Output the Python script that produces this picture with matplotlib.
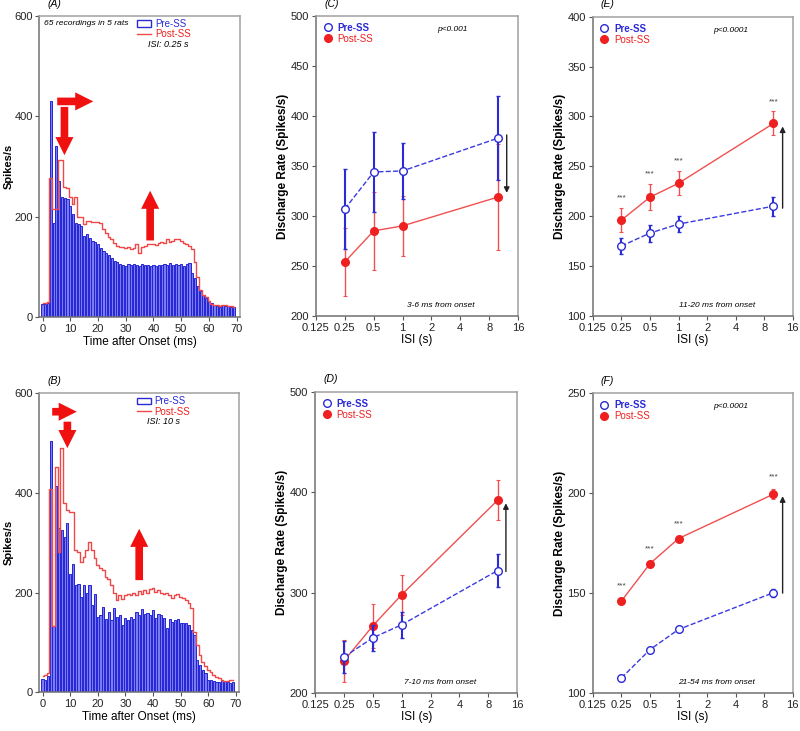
import numpy as np
import matplotlib.pyplot as plt
from matplotlib.patches import Patch
from matplotlib.lines import Line2D

plt.rcParams['font.family'] = ['Liberation Sans', 'DejaVu Sans']

BLUE = '#2b2bd6'
RED = '#ee2020'

# ---- PSTH data, 1 ms bins, 0-70 ms ----
bins_ms = np.arange(70)

pre_a = [27, 27, 28, 430, 187, 342, 272, 240, 238, 235,
         222, 205, 188, 186, 182, 162, 165, 158, 152, 149,
         145, 138, 132, 128, 124, 118, 112, 110, 106, 104,
         103, 106, 104, 107, 105, 103, 106, 104, 105, 103,
         104, 102, 105, 104, 106, 105, 108, 105, 107, 104,
         106, 103, 106, 108, 88, 78, 63, 53, 45, 38,
         33, 28, 25, 22, 20, 24, 22, 22, 20, 20]
post_a = [28, 28, 30, 278, 215, 215, 313, 313, 260, 258,
          240, 225, 240, 200, 200, 185, 192, 192, 190, 190,
          190, 188, 175, 168, 160, 155, 148, 142, 140, 140,
          137, 140, 135, 137, 145, 128, 140, 142, 145, 146,
          145, 143, 148, 150, 148, 155, 150, 152, 155, 155,
          152, 148, 145, 142, 135, 110, 80, 55, 45, 40,
          33, 27, 25, 25, 22, 25, 25, 23, 22, 20]

pre_b = [27, 25, 33, 505, 132, 413, 330, 326, 312, 340,
         238, 258, 215, 218, 192, 215, 200, 215, 175, 198,
         152, 155, 172, 148, 162, 145, 170, 152, 155, 135,
         150, 145, 152, 148, 162, 155, 168, 158, 160, 155,
         166, 150, 158, 155, 150, 128, 148, 140, 145, 148,
         138, 138, 138, 135, 125, 115, 65, 55, 45, 38,
         25, 25, 22, 20, 20, 25, 22, 20, 18, 20]
post_b = [33, 35, 38, 408, 133, 453, 282, 490, 380, 366,
          362, 362, 285, 282, 262, 272, 285, 302, 285, 270,
          255, 250, 245, 232, 228, 215, 200, 185, 195, 188,
          195, 198, 196, 200, 195, 203, 198, 205, 200, 208,
          210, 202, 205, 200, 198, 200, 195, 190, 195, 198,
          192, 190, 186, 180, 170, 120, 95, 75, 60, 52,
          45, 40, 35, 30, 28, 25, 23, 22, 25, 25]

# ---- discharge rate vs ISI ----
isi = [0.25, 0.5, 1, 10]
isi_ticks = [0.125, 0.25, 0.5, 1, 2, 4, 8, 16]
isi_labels = ['0.125', '0.25', '0.5', '1', '2', '4', '8', '16']

pre_c = [307, 344, 345, 378]
pre_c_err = [40, 40, 28, 42]
post_c = [254, 285, 290, 319]
post_c_err = [34, 39, 30, 53]

pre_d = [236, 255, 268, 322]
pre_d_err = [16, 13, 13, 16]
post_d = [232, 267, 298, 392]
post_d_err = [21, 22, 20, 20]

pre_e = [170, 183, 192, 210]
pre_e_err = [8, 8.5, 8, 9.5]
post_e = [196, 219, 233, 293]
post_e_err = [12, 13, 12, 12]

pre_f = [107.5, 121.7, 131.8, 150.2]
pre_f_err = [1.5, 1.5, 1.5, 2]
post_f = [146, 164.7, 177.3, 199.5]
post_f_err = [1.5, 1.5, 1.5, 2.5]


def frame(ax):
    for side in ['top', 'right']:
        ax.spines[side].set_color('#a0a0a0')
    for side in ['left', 'bottom']:
        ax.spines[side].set_color('#707070')
    for s in ax.spines.values():
        s.set_linewidth(1.1)
    ax.tick_params(direction='out', length=3, width=0.8, color='#555555',
                   labelsize=8, labelcolor='#222222', pad=2)


def big_arrow(ax, start, end):
    ax.annotate('', xy=end, xytext=start,
                arrowprops=dict(arrowstyle='simple,head_length=1.3,head_width=1.3,tail_width=0.55',
                                mutation_scale=10, color='#f01010', lw=0,
                                shrinkA=0, shrinkB=0))


def psth_panel(ax, pre, post, tag, isi_note, arrows, show_count):
    ax.bar(bins_ms, pre, width=0.78, color='#7c7cf2', edgecolor='#2424d4',
           linewidth=0.7, zorder=2)
    ax.step(bins_ms, post, where='mid', color='#f04848', lw=1.0, zorder=3)
    ax.set_xlim(-1.2, 71.2)
    ax.set_ylim(0, 600)
    ax.set_xticks(range(0, 71, 10))
    ax.set_yticks([0, 200, 400, 600])
    frame(ax)
    ax.tick_params(axis='y', pad=1.5)
    ax.set_ylabel('Spikes/s', fontsize=8, fontweight='bold')
    ax.yaxis.set_label_coords(-0.125, 0.5)
    ax.set_xlabel('Time after Onset (ms)', fontsize=8.5, labelpad=1)
    ax.text(0.04, 1.025, tag, transform=ax.transAxes, fontsize=7.5,
            style='italic', ha='left', va='bottom')
    if show_count:
        ax.text(0.025, 0.975, '65 recordings in 5 rats', transform=ax.transAxes,
                fontsize=6.1, style='italic', ha='left', va='center')
    handles = [Patch(facecolor='white', edgecolor=BLUE, linewidth=1.0),
               Line2D([], [], color='#f04848', lw=1.0)]
    ax.legend(handles, ['Pre-SS', 'Post-SS'], loc='upper left',
              bbox_to_anchor=(0.46, 1.01), frameon=False, fontsize=7,
              handlelength=1.4, handleheight=0.6, handletextpad=0.4,
              labelspacing=0.05, labelcolor=[BLUE, RED], borderaxespad=0.2)
    ax.text(0.54, 0.905, isi_note, transform=ax.transAxes, fontsize=6.5,
            style='italic', ha='left', va='center')
    for start, end in arrows:
        big_arrow(ax, start, end)


def rate_panel(ax, pre, pre_err, post, post_err, ylim, yticks, tag,
               window, pval, stars, star_off, arrow, show_xlabel=True):
    ax.errorbar(isi, post, yerr=post_err, fmt='-o', color='#f05050', lw=1.0,
                ecolor='#f05050', elinewidth=1.0, capsize=1.5, capthick=0.8,
                markersize=5.5, markerfacecolor=RED, markeredgecolor=RED,
                zorder=3)
    ax.errorbar(isi, pre, yerr=pre_err, fmt='--o', color='#3a3ae0', lw=1.0,
                ecolor=BLUE, elinewidth=1.5, capsize=1.5, capthick=0.8,
                markersize=5.5, markerfacecolor='white', markeredgecolor=BLUE,
                markeredgewidth=1.0, zorder=4)
    ax.set_xscale('log', base=2)
    ax.set_xlim(0.125, 16)
    ax.set_xticks(isi_ticks)
    ax.set_xticklabels(isi_labels)
    ax.minorticks_off()
    ax.set_ylim(*ylim)
    ax.set_yticks(yticks)
    frame(ax)
    ax.set_ylabel('Discharge Rate (Spikes/s)', fontsize=8.5,
                  fontweight='bold', labelpad=1)
    if show_xlabel:
        ax.set_xlabel('ISI (s)', fontsize=8.5, labelpad=1)
    ax.text(0.04, 1.025, tag, transform=ax.transAxes, fontsize=7.5,
            style='italic', ha='left', va='bottom')
    handles = [Line2D([], [], marker='o', ls='', markersize=5.5,
                      markerfacecolor='white', markeredgecolor=BLUE),
               Line2D([], [], marker='o', ls='', markersize=5.5,
                      markerfacecolor=RED, markeredgecolor=RED)]
    leg = ax.legend(handles, ['Pre-SS', 'Post-SS'], loc='upper left',
                    bbox_to_anchor=(0.0, 1.0), frameon=False, fontsize=7,
                    handlelength=1.0, handletextpad=0.5, labelspacing=0.1,
                    labelcolor=[BLUE, RED], borderaxespad=0.3)
    leg.get_texts()[0].set_fontweight('bold')
    if pval:
        ax.text(0.6, 0.955, pval, transform=ax.transAxes, fontsize=6,
                style='italic', ha='left', va='center')
    ax.text(0.62, 0.035, window, transform=ax.transAxes, fontsize=6,
            style='italic', ha='center', va='center')
    if stars:
        for xv, yv, ev in zip(isi, post, post_err):
            ax.text(xv, yv + ev + star_off, '***', fontsize=6, color='#444444',
                    ha='center', va='center')
    x_arr, y0, y1 = arrow
    ax.annotate('', xy=(x_arr, y1), xytext=(x_arr, y0),
                arrowprops=dict(arrowstyle='-|>', color='#222222', lw=1.0,
                                mutation_scale=8, shrinkA=0, shrinkB=0))


fig = plt.figure(figsize=(8.0, 7.31), dpi=100)

ax_a = fig.add_axes([0.049, 0.566, 0.251, 0.412])
ax_b = fig.add_axes([0.049, 0.053, 0.250, 0.409])
ax_c = fig.add_axes([0.395, 0.568, 0.2525, 0.410])
ax_d = fig.add_axes([0.394, 0.052, 0.2525, 0.412])
ax_e = fig.add_axes([0.741, 0.568, 0.25, 0.409])
ax_f = fig.add_axes([0.741, 0.052, 0.25, 0.410])

psth_panel(ax_a, pre_a, post_a, '(A)', 'ISI: 0.25 s',
           [((5.3, 430), (18.3, 430)), ((7.9, 419), (7.9, 323)),
            ((38.8, 153), (38.8, 252))], True)
psth_panel(ax_b, pre_b, post_b, '(B)', 'ISI: 10 s',
           [((3.5, 563), (12.4, 563)), ((9.0, 543), (9.0, 490)),
            ((35.0, 225), (35.0, 328))], False)

rate_panel(ax_c, pre_c, pre_c_err, post_c, post_c_err, (200, 500),
           range(200, 501, 50), '(C)', '3-6 ms from onset', 'p<0.001',
           False, 0, (12.2, 381, 323))
rate_panel(ax_d, pre_d, pre_d_err, post_d, post_d_err, (200, 500),
           range(200, 501, 100), '(D)', '7-10 ms from onset', None,
           False, 0, (12.2, 321, 389))
rate_panel(ax_e, pre_e, pre_e_err, post_e, post_e_err, (100, 400),
           range(100, 401, 50), '(E)', '11-20 ms from onset', 'p<0.0001',
           True, 10, (12.5, 208, 290))
rate_panel(ax_f, pre_f, pre_f_err, post_f, post_f_err, (100, 250),
           range(100, 251, 50), '(F)', '21-54 ms from onset', 'p<0.0001',
           True, 6, (12.5, 150, 198.5))

fig.savefig('out.png', dpi=100)
